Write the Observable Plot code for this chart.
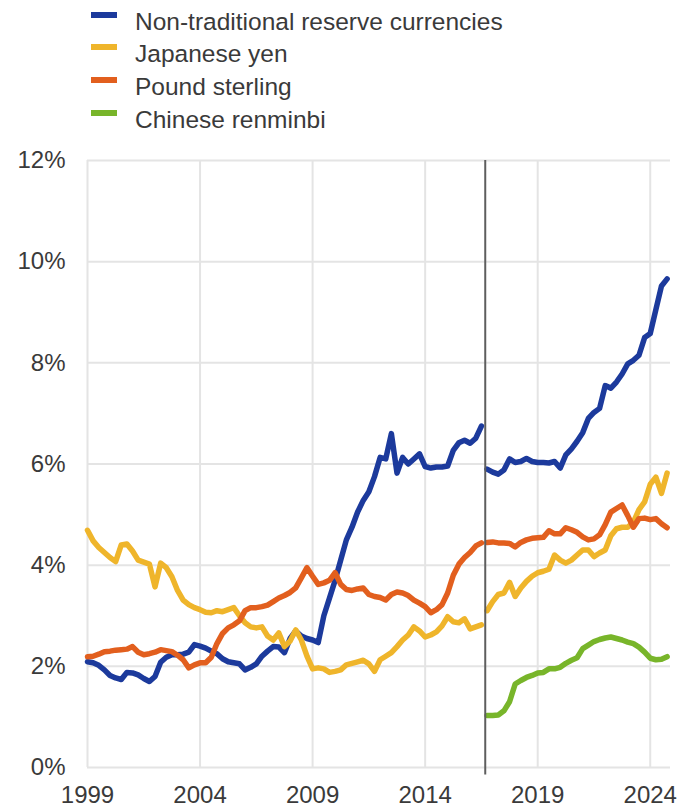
<!DOCTYPE html>
<html><head><meta charset="utf-8">
<script src="https://cdn.jsdelivr.net/npm/d3@7"></script>
<script src="https://cdn.jsdelivr.net/npm/@observablehq/plot@0.6"></script>
<style>
body{margin:0;background:#fff;font-family:"Liberation Sans",Arial,sans-serif;}
#legend{position:relative;height:140px;width:685px;}
.sw{position:absolute;left:91px;width:26px;height:6px;}
.lbl{position:absolute;left:135px;font-size:24.5px;line-height:24px;color:#3a3a3a;white-space:nowrap;}
</style>
</head><body>
<div id="legend"></div>
<div id="chart"></div>
<script>
const seriesNames = ["Non-traditional reserve currencies","Japanese yen","Pound sterling","Chinese renminbi"];
const seriesColors = ["#1c3a9c","#efb52b","#e25f1e","#78b52a"];
const xTicks = [1999,2004,2009,2014,2019,2024];
const yTicks = [0,2,4,6,8,10,12];
const preStart = 1999;      // 1999 Q1
const postStart = 2016.75;  // 2016 Q4
const breakYear = 2016.67;

const nonTradPre = [2.09,2.07,2.02,1.93,1.82,1.77,1.74,1.88,1.87,1.83, 1.76,1.70,1.80,2.08,2.18,2.23,2.23,2.24,2.28,2.43, 2.40,2.36,2.30,2.25,2.15,2.09,2.07,2.05,1.93,1.98, 2.05,2.20,2.30,2.39,2.38,2.27,2.55,2.70,2.60,2.55, 2.52,2.47,3.00,3.35,3.70,4.10,4.50,4.75,5.05,5.28, 5.45,5.75,6.13,6.10,6.60,5.82,6.13,6.00,6.10,6.20, 5.95,5.92,5.94,5.94,5.96,6.27,6.42,6.47,6.41,6.51, 6.75];
const nonTradPost = [5.90,5.84,5.80,5.88,6.10,6.03,6.05,6.11,6.05,6.03, 6.03,6.02,6.05,5.92,6.18,6.30,6.45,6.62,6.90,7.02, 7.10,7.55,7.50,7.62,7.78,7.98,8.05,8.15,8.50,8.58, 9.05,9.52,9.66];
const yenPre = [4.69,4.48,4.35,4.25,4.15,4.07,4.40,4.42,4.28,4.10, 4.06,4.02,3.57,4.04,3.95,3.77,3.50,3.31,3.22,3.16, 3.12,3.07,3.06,3.10,3.08,3.12,3.16,3.00,2.86,2.78, 2.76,2.78,2.60,2.52,2.66,2.39,2.50,2.72,2.52,2.20, 1.95,1.97,1.95,1.88,1.90,1.93,2.03,2.06,2.09,2.12, 2.05,1.90,2.13,2.20,2.27,2.39,2.52,2.62,2.78,2.70, 2.58,2.62,2.68,2.80,2.98,2.88,2.86,2.94,2.74,2.78, 2.82];
const yenPost = [3.10,3.28,3.42,3.45,3.66,3.38,3.55,3.68,3.78,3.85, 3.88,3.92,4.20,4.10,4.04,4.10,4.20,4.30,4.30,4.17, 4.24,4.30,4.58,4.72,4.75,4.75,4.85,5.10,5.25,5.60, 5.74,5.42,5.82];
const poundPre = [2.19,2.20,2.24,2.29,2.30,2.32,2.33,2.34,2.39,2.28, 2.23,2.25,2.28,2.33,2.31,2.29,2.22,2.13,1.97,2.03, 2.07,2.07,2.18,2.45,2.65,2.76,2.82,2.90,3.10,3.16, 3.16,3.18,3.21,3.28,3.35,3.40,3.46, 3.55,3.75,3.95,3.78,3.62,3.65,3.70,3.85,3.62,3.52,3.50,3.53, 3.55,3.42,3.38,3.36,3.31,3.42,3.47,3.45,3.40,3.31,3.25, 3.18,3.06,3.12,3.22,3.45,3.80,4.02,4.15,4.25,4.38,4.44];
const poundPost = [4.45,4.46,4.44,4.44,4.43,4.36,4.45,4.50,4.53,4.54, 4.55,4.68,4.62,4.62,4.74,4.70,4.65,4.56,4.50,4.52, 4.60,4.80,5.05,5.12,5.19,4.98,4.75,4.92,4.93,4.90, 4.92,4.82,4.74];
const renminbiPost = [1.03,1.03,1.04,1.12,1.30,1.65,1.72,1.78,1.82,1.87, 1.88,1.95,1.95,1.98,2.06,2.12,2.17,2.35,2.42,2.49, 2.53,2.56,2.58,2.55,2.52,2.48,2.45,2.38,2.28,2.16, 2.13,2.14,2.19];

const segments = [
  [seriesNames[0], "pre", preStart, nonTradPre],
  [seriesNames[0], "post", postStart, nonTradPost],
  [seriesNames[1], "pre", preStart, yenPre],
  [seriesNames[1], "post", postStart, yenPost],
  [seriesNames[2], "pre", preStart, poundPre],
  [seriesNames[2], "post", postStart, poundPost],
  [seriesNames[3], "post", postStart, renminbiPost]
];
const rows = [];
for (const [series, seg, start, vals] of segments) {
  vals.forEach((v, i) => rows.push({series, key: series + "|" + seg, year: start + i * 0.25, value: v}));
}

// legend
const leg = document.getElementById("legend");
seriesNames.forEach((name, k) => {
  const base = 30 + k * 32.7;
  const sw = document.createElement("div");
  sw.className = "sw";
  sw.style.top = (base - 18.5) + "px";
  sw.style.background = seriesColors[k];
  leg.appendChild(sw);
  const t = document.createElement("div");
  t.className = "lbl";
  t.style.top = (base - 20.3) + "px";
  t.textContent = name;
  leg.appendChild(t);
});

const chart = Plot.plot({
  width: 685, height: 669,
  marginLeft: 87, marginRight: 15, marginTop: 20, marginBottom: 42,
  style: {fontFamily: "Liberation Sans, Arial, sans-serif", fontSize: "24px", color: "#3a3a3a", background: "#fff"},
  x: {domain: [1999, 2024.9], label: null},
  y: {domain: [0, 12], label: null},
  color: {domain: seriesNames, range: seriesColors},
  marks: [
    Plot.gridY(yTicks, {stroke: "#e4e4e4", strokeOpacity: 1, strokeWidth: 2}),
    Plot.gridX(xTicks, {stroke: "#e4e4e4", strokeOpacity: 1, strokeWidth: 2}),
    Plot.axisX(xTicks, {tickSize: 0, tickPadding: 18, tickFormat: d => String(d), label: null}),
    Plot.axisY(yTicks, {tickSize: 0, tickPadding: 22, tickFormat: d => d + "%", label: null}),
    Plot.line(rows, {x: "year", y: "value", z: "key", stroke: "series", strokeWidth: 5.5, strokeLinejoin: "round", strokeLinecap: "round"}),
    Plot.ruleX([breakYear], {y1: -0.15, y2: 12, stroke: "#5e5e5e", strokeWidth: 2})
  ]
});
document.getElementById("chart").appendChild(chart);
</script>
</body></html>
